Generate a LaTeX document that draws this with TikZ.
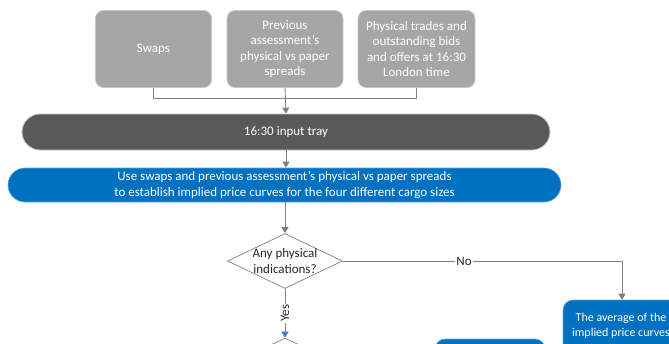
\documentclass[tikz,border=0pt]{standalone}
\usepackage{fontspec}
\setmainfont{Carlito}
\usetikzlibrary{arrows.meta,shapes.geometric}
\definecolor{boxgray}{HTML}{A6A6A6}
\definecolor{edgegray}{HTML}{C8C8C8}
\definecolor{traygray}{HTML}{595959}
\definecolor{blu}{HTML}{0070C0}
\definecolor{linegray}{HTML}{808080}
\definecolor{tipblue}{HTML}{4472C4}
\tikzset{
  inbox/.style={draw=edgegray, line width=0.8pt, fill=boxgray, rounded corners=8pt, text=white, align=center, inner sep=0pt, font=\fontsize{13}{15.6}\selectfont},
  traybox/.style={draw=edgegray, line width=0.8pt, fill=traygray, rounded corners=18pt, text=white, align=center, inner sep=0pt, font=\fontsize{13}{15.6}\selectfont},
  bluebox/.style={draw=blu!60, line width=0.6pt, fill=blu, text=white, align=center, inner sep=0pt, font=\fontsize{13}{15.6}\selectfont},
  decision/.style={diamond, draw=linegray, line width=0.7pt, fill=white, inner sep=0pt, minimum width=115pt, minimum height=55pt},
  dtext/.style={align=center, text=black!85, inner sep=0pt, font=\fontsize{13}{15.6}\selectfont},
  conn/.style={draw=linegray, line width=0.9pt},
  arr/.style={conn, -{Triangle[length=6pt,width=7pt]}},
  lbl/.style={fill=white, inner sep=1pt, text=black!85, font=\fontsize{13}{14}\selectfont}
}
\begin{document}
\begin{tikzpicture}[x=1pt,y=-1pt]
\useasboundingbox (0,0) rectangle (669,343);
\clip (0,0) rectangle (669,343);
\node[inbox, minimum width=116pt, minimum height=77pt] (swaps) at (153.5,49) {Swaps};
\node[inbox, minimum width=116pt, minimum height=77pt] (prev) at (285,49) {Previous\\assessment's\\physical vs paper\\spreads};
\node[inbox, minimum width=117pt, minimum height=77pt] (phys) at (416.5,49) {Physical trades and\\outstanding bids\\and offers at 16:30\\London time};
\node[traybox, minimum width=528pt, minimum height=36pt] (tray) at (286,132) {16:30 input tray};
\node[bluebox, rounded corners=17pt, minimum width=553pt, minimum height=34pt] (implied) at (284.5,185) {Use swaps and previous assessment's physical vs paper spreads\\to establish implied price curves for the four different cargo sizes};
\node[decision] (q1) at (285,261) {};
\node[dtext] (q1t) at (q1) {Any physical\\indications?};
\node[bluebox, rounded corners=10pt, minimum width=118pt, minimum height=80pt] (avg) at (622,340) {};
\node[dtext, text=white, anchor=north, font=\fontsize{12}{14.5}\selectfont] (avgt) at (621,313) {The average of the\\implied price curves};
\node[decision] (q2) at (285,365.5) {};
\node[bluebox, rounded corners=10pt, minimum width=110pt, minimum height=60pt] (bot) at (490,369) {};
\coordinate (turn) at (avg.north |- q1.east);
% connectors
\draw[conn] (swaps.south) -- ++(0,11) -| (phys.south);
\draw[arr] (prev.south) -- (tray.north);
\draw[arr] (tray.south) -- (tray.south |- implied.north);
\draw[arr] (q1.north |- implied.south) -- (q1.north);
\draw[conn] (q1.east) -- node[lbl, pos=0.434] {No} (turn);
\draw[arr] (turn) -- (avg.north);
\draw[conn, -{Triangle[length=6pt,width=7pt,color=tipblue]}] (q1.south) -- node[lbl, rotate=90, pos=0.5] {Yes} (q2.north);
\end{tikzpicture}
\end{document}
